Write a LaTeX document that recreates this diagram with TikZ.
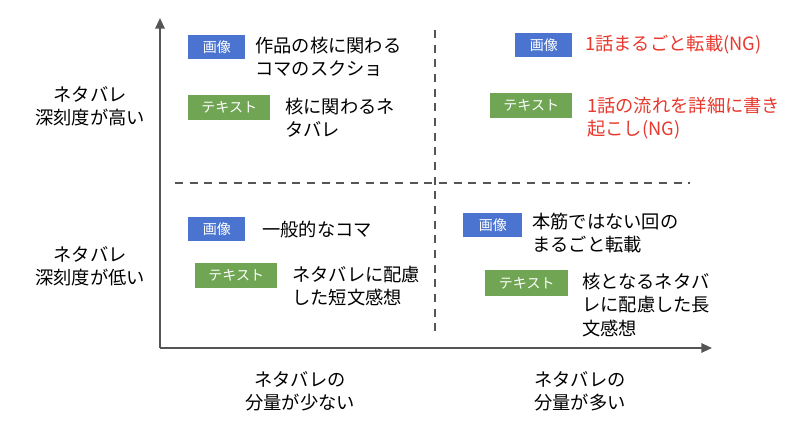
\documentclass[tikz,border=0pt]{standalone}
\usepackage{fontspec}
\setmainfont{Noto Sans CJK JP}
\usetikzlibrary{arrows.meta}
\definecolor{bblue}{HTML}{4A74D0}
\definecolor{bgreen}{HTML}{6FA553}
\definecolor{nred}{HTML}{E8392E}
\definecolor{axis}{HTML}{555555}
\begin{document}
\begin{tikzpicture}[x=0.75pt,y=-0.75pt,
  tag/.style={anchor=north west,inner sep=0pt,text=white,font=\fontsize{10.5}{12}\selectfont,align=center},
  lbl/.style={anchor=west,align=left,font=\fontsize{13.7}{17.5}\selectfont,inner sep=0pt},
  side/.style={align=center,font=\fontsize{13.7}{17.5}\selectfont,inner sep=0pt}]
\useasboundingbox (0,0) rectangle (800,433);
\fill[white] (0,0) rectangle (800,433);
\coordinate (o) at (160,348);
\coordinate (yt) at (160,18);
\coordinate (xr) at (712,348);
\draw[axis,line width=1.6pt,-{Triangle[length=8pt,width=7pt]}] (o) -- (yt);
\draw[axis,line width=1.6pt,-{Triangle[length=8pt,width=7pt]}] (o) -- (xr);
\coordinate (h1) at (175,183); \coordinate (h2) at (690,183);
\coordinate (v1) at (435,30); \coordinate (v2) at (435,335);
\draw[axis,line width=1.2pt,dash pattern=on 6pt off 5pt] (h1) -- (h2);
\draw[axis,line width=1.2pt,dash pattern=on 6pt off 5pt] (v1) -- (v2);
% top-left
\node[tag,fill=bblue,minimum width=57*0.75pt,minimum height=24*0.75pt] (b1) at (188,35) {画像};
\node[lbl] (t1) at (255,57) {作品の核に関わる\\コマのスクショ};
\node[tag,fill=bgreen,minimum width=82*0.75pt,minimum height=25*0.75pt] (g1) at (188,95) {テキスト};
\node[lbl] (t2) at (285,118) {核に関わるネ\\タバレ};
% top-right
\node[tag,fill=bblue,minimum width=57*0.75pt,minimum height=24*0.75pt] (b2) at (515,33) {画像};
\node[lbl,text=nred] (t3) at (585,45) {1話まるごと転載(NG)};
\node[tag,fill=bgreen,minimum width=82*0.75pt,minimum height=25*0.75pt] (g2) at (490,93) {テキスト};
\node[lbl,text=nred] (t4) at (587,118) {1話の流れを詳細に書き\\起こし(NG)};
% bottom-left
\node[tag,fill=bblue,minimum width=57*0.75pt,minimum height=24*0.75pt] (b3) at (188,217) {画像};
\node[lbl] (t5) at (262,230) {一般的なコマ};
\node[tag,fill=bgreen,minimum width=82*0.75pt,minimum height=25*0.75pt] (g3) at (195,263) {テキスト};
\node[lbl] (t6) at (292,286) {ネタバレに配慮\\した短文感想};
% bottom-right
\node[tag,fill=bblue,minimum width=59*0.75pt,minimum height=24*0.75pt] (b4) at (463,213) {画像};
\node[lbl] (t7) at (532,233) {本筋ではない回の\\まるごと転載};
\node[tag,fill=bgreen,minimum width=83*0.75pt,minimum height=26*0.75pt] (g4) at (485,270) {テキスト};
\node[lbl] (t8) at (582,305) {核となるネタバ\\レに配慮した長\\文感想};
% side labels
\node[side] (s1) at (90,106) {ネタバレ\\深刻度が高い};
\node[side] (s2) at (90,266) {ネタバレ\\深刻度が低い};
\node[side] (s3) at (300,391) {ネタバレの\\分量が少ない};
\node[side] (s4) at (580,391) {ネタバレの\\分量が多い};
\end{tikzpicture}
\end{document}
